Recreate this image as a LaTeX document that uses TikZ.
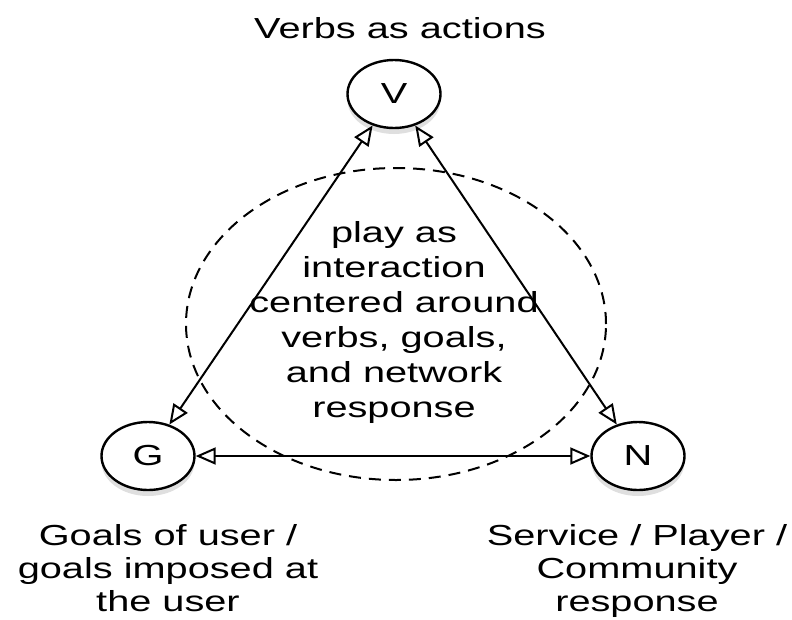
\documentclass[tikz,border=0pt]{standalone}
\usepackage{fontspec}
\setmainfont{Liberation Sans}[FakeStretch=1.37]
\usetikzlibrary{arrows.meta,shapes.geometric,shadows}

\begin{document}
\begin{tikzpicture}[x=1pt, y=-1pt,
    every node/.style={font=\fontsize{29}{33}\selectfont},
    state/.style={draw, line width=2.4pt, ellipse, fill=white, inner sep=0pt,
      minimum width=93pt, minimum height=68pt,
      drop shadow={opacity=0.25, shadow xshift=0pt, shadow yshift=-6pt}},
    link/.style={{Triangle[open,length=20pt,width=17pt]}-{Triangle[open,length=20pt,width=17pt]}, line width=2pt}]

  \useasboundingbox (0,0) rectangle (792,619);

  \draw[line width=2pt, dash pattern=on 12pt off 8pt] (396,324) ellipse [x radius=210pt, y radius=156pt];

  \node[state] (V) at (394,94) {V};
  \node[state] (G) at (148,456) {G};
  \node[state] (N) at (638,456) {N};

  \node[anchor=base] (vtext) at (400,38) {Verbs as actions};
  \node[anchor=base, align=center] (gtext) at (168,611) {Goals of user /\\goals imposed at\\the user};
  \node[anchor=base, align=center] (ntext) at (637,611) {Service / Player /\\Community\\response};

  \node[align=center, font=\fontsize{29}{35}\selectfont] (play) at (394,322)
    {play as\\interaction\\centered around\\verbs, goals,\\and network\\response};

  \draw[link] (V) -- (G);
  \draw[link] (V) -- (N);
  \draw[link] (G) -- (N);

\end{tikzpicture}
\end{document}
